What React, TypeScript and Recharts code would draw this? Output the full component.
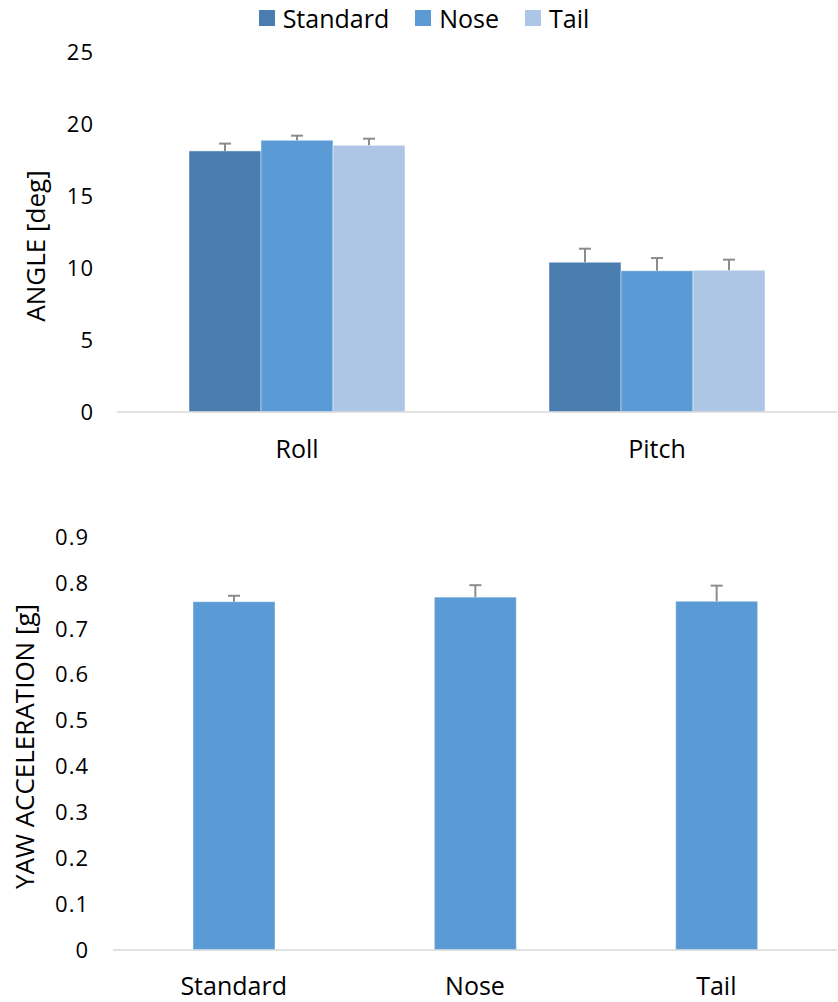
import { BarChart, Bar, XAxis, YAxis, Legend, Label } from 'recharts';

const CATEGORIES = ['Roll', 'Pitch'];
const STANDARD = [18.13, 10.4];
const NOSE = [18.87, 9.81];
const TAIL = [18.52, 9.84];
const STANDARD_ERR = [0.51, 0.94];
const NOSE_ERR = [0.32, 0.88];
const TAIL_ERR = [0.46, 0.74];
const ANGLE_TICKS = [0, 5, 10, 15, 20, 25];
const SERIES_ORDER = ['Standard', 'Nose', 'Tail'];

const YAW_CATEGORIES = ['Standard', 'Nose', 'Tail'];
const YAW_VALUES = [0.759, 0.769, 0.76];
const YAW_ERR = [0.013, 0.026, 0.034];
const YAW_TICKS = [0, 0.1, 0.2, 0.3, 0.4, 0.5, 0.6, 0.7, 0.8, 0.9];

const FONT = '"Open Sans", sans-serif';
const C_STANDARD = '#4a7eb0';
const C_NOSE = '#5b9bd5';
const C_TAIL = '#aec6e6';
const ERR_COLOR = '#8c8c8c';
const AXIS_COLOR = '#d9d9d9';

const angleData = CATEGORIES.map((name, i) => ({
  name,
  standard: STANDARD[i],
  standardErr: STANDARD_ERR[i],
  nose: NOSE[i],
  noseErr: NOSE_ERR[i],
  tail: TAIL[i],
  tailErr: TAIL_ERR[i],
}));

const yawData = YAW_CATEGORIES.map((name, i) => ({
  name,
  value: YAW_VALUES[i],
  err: YAW_ERR[i],
}));

// bar plus an upper-only whisker; pixel length comes from the bar's own scale (height / value)
const barWithError = (valKey: string, errKey: string) => (props: any) => {
  const { x, y, width, height, fill, payload } = props;
  const v = payload[valKey];
  const e = payload[errKey];
  const pxPerUnit = v ? height / v : 0;
  const cx = x + width / 2;
  const top = y - e * pxPerUnit;
  return (
    <g>
      <rect x={x} y={y} width={width} height={height} fill={fill} stroke="rgba(255,255,255,0.45)" strokeWidth={1} />
      <line x1={cx} x2={cx} y1={y} y2={top} stroke={ERR_COLOR} strokeWidth={2} />
      <line x1={cx - 6} x2={cx + 6} y1={top} y2={top} stroke={ERR_COLOR} strokeWidth={2} />
    </g>
  );
};

const yTitle = (text: string, cx: number, shift: number) => (props: any) => {
  const { viewBox } = props;
  const cy = viewBox.y + viewBox.height / 2 + shift;
  return (
    <text
      x={cx}
      y={cy}
      transform={`rotate(-90 ${cx} ${cy})`}
      textAnchor="middle"
      dominantBaseline="central"
      fontFamily={FONT}
      fontSize={26}
      fill="#000"
    >
      {text}
    </text>
  );
};

const renderLegend = (props: any) => {
  const items = [...(props.payload || [])].sort(
    (a: any, b: any) => SERIES_ORDER.indexOf(a.value) - SERIES_ORDER.indexOf(b.value)
  );
  return (
    <div
      style={{
        position: 'relative',
        top: -10,
        height: 52,
        paddingTop: 4,
        paddingLeft: 10,
        boxSizing: 'border-box',
        display: 'flex',
        justifyContent: 'center',
        fontFamily: FONT,
        fontSize: 25,
        lineHeight: '30px',
        color: '#000',
      }}
    >
      {items.map((p: any) => (
        <div key={p.value} style={{ display: 'flex', alignItems: 'center', margin: '0 13px' }}>
          <span style={{ width: 16, height: 16, background: p.color, marginRight: 8 }} />
          <span>{p.value}</span>
        </div>
      ))}
    </div>
  );
};

const tickStyle = { fontFamily: FONT, fontSize: 22, fill: '#000', letterSpacing: 1 };
const catStyle = { fontFamily: FONT, fontSize: 25, fill: '#000' };

export default function App() {
  return (
    <div style={{ position: 'absolute', left: 0, top: 0, width: 838, height: 1002, background: '#fff' }}>
      <BarChart
        width={838}
        height={490}
        data={angleData}
        margin={{ top: 0, right: 1, bottom: 0, left: 0 }}
        barGap={0}
        barCategoryGap="20%"
      >
        <Legend verticalAlign="top" content={renderLegend} wrapperStyle={{ top: 0, left: 0, width: 838 }} />
        <XAxis
          dataKey="name"
          height={78}
          tickLine={false}
          tickSize={0}
          tickMargin={28}
          axisLine={{ stroke: AXIS_COLOR, strokeWidth: 1.5 }}
          tick={catStyle}
        />
        <YAxis
          width={117}
          domain={[0, 25]}
          ticks={ANGLE_TICKS}
          axisLine={false}
          tickLine={false}
          tickSize={0}
          tickMargin={23}
          tick={tickStyle}
        >
          <Label content={yTitle('ANGLE [deg]', 35, 14)} />
        </YAxis>
        <Bar dataKey="standard" name="Standard" fill={C_STANDARD} barSize={72} isAnimationActive={false} shape={barWithError('standard', 'standardErr')} />
        <Bar dataKey="nose" name="Nose" fill={C_NOSE} barSize={72} isAnimationActive={false} shape={barWithError('nose', 'noseErr')} />
        <Bar dataKey="tail" name="Tail" fill={C_TAIL} barSize={72} isAnimationActive={false} shape={barWithError('tail', 'tailErr')} />
      </BarChart>
      <BarChart
        width={838}
        height={512}
        data={yawData}
        margin={{ top: 47, right: 1, bottom: 0, left: 0 }}
      >
        <XAxis
          dataKey="name"
          height={52}
          tickLine={false}
          tickSize={0}
          tickMargin={27}
          axisLine={{ stroke: AXIS_COLOR, strokeWidth: 1.5 }}
          tick={catStyle}
        />
        <YAxis
          width={113}
          domain={[0, 0.9]}
          ticks={YAW_TICKS}
          axisLine={false}
          tickLine={false}
          tickSize={0}
          tickMargin={24}
          tick={tickStyle}
        >
          <Label content={yTitle('YAW ACCELERATION [g]', 24, 3)} />
        </YAxis>
        <Bar dataKey="value" fill={C_NOSE} barSize={82} isAnimationActive={false} shape={barWithError('value', 'err')} />
      </BarChart>
    </div>
  );
}
